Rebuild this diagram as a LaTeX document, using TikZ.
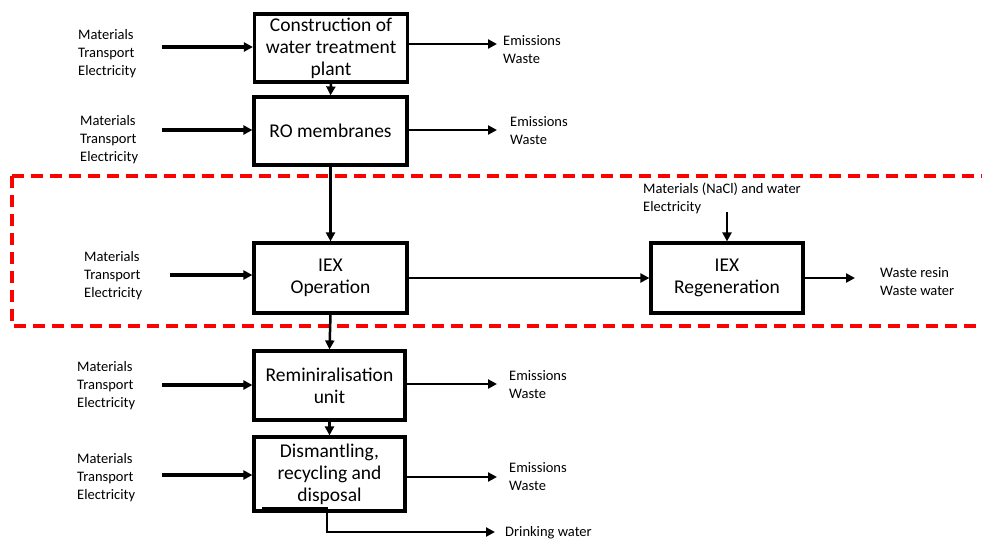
\documentclass[tikz,border=0pt]{standalone}
\usepackage{fontspec}
\setmainfont{Carlito}
\usetikzlibrary{arrows.meta}
\begin{document}
\begin{tikzpicture}[x=1pt,y=-1pt,
  box/.style={draw,line width=3.2pt,minimum width=153pt,minimum height=68pt,inner sep=0pt,align=center,font=\fontsize{19.5}{22}\selectfont},
  lbl/.style={anchor=west,align=left,inner sep=0pt,font=\fontsize{14.5}{18}\selectfont},
  arr/.style={line width=2.5pt,-{Triangle[length=9pt,width=9pt]}},
  inarr/.style={line width=3.4pt,-{Triangle[length=9pt,width=9pt]}},
  region/.style={draw=red,line width=3.4pt,dash pattern=on 12pt off 7pt}]
\useasboundingbox (0,0) rectangle (982,542);
\begin{scope}
\clip (0,0) rectangle (982,542);
\draw[region] (12,176) -- (1010,176) (12,176) -- (12,326) -- (1010,326);
\end{scope}
% boxes
\node[box] (con) at (331,48) {Construction of\\water treatment\\plant};
\node[box] (ro) at (330.5,131) {RO membranes};
\node[box,minimum height=70pt] (iex) at (330.5,278) {IEX\\Operation};
\node[box,minimum width=152pt,minimum height=70pt] (reg) at (727,278) {IEX\\Regeneration};
\node[box,minimum width=151pt,minimum height=69pt] (rem) at (329.5,385.5) {Reminiralisation\\unit};
\node[box,minimum width=151pt,minimum height=74pt] (dis) at (329.5,474) {Dismantling,\\recycling and\\disposal};
% input labels
\node[lbl] (in1) at (78,54) {Materials\\Transport\\Electricity};
\node[lbl] (in2) at (80,140) {Materials\\Transport\\Electricity};
\node[lbl] (in3) at (84,275.5) {Materials\\Transport\\Electricity};
\node[lbl] (in4) at (77,385.5) {Materials\\Transport\\Electricity};
\node[lbl] (in5) at (77,477.5) {Materials\\Transport\\Electricity};
\coordinate (s1) at (162,47);
\coordinate (s2) at (162,130);
\coordinate (s3) at (170,275);
\coordinate (s4) at (162,385);
\coordinate (s5) at (162,475);
\draw[inarr] (s1) -- (con.west |- s1);
\draw[inarr] (s2) -- (ro.west |- s2);
\draw[inarr] (s3) -- (iex.west |- s3);
\draw[inarr] (s4) -- (rem.west |- s4);
\draw[inarr] (s5) -- (dis.west |- s5);
% output labels
\node[lbl] (out1) at (503,50) {Emissions\\Waste};
\node[lbl] (out2) at (510,130.5) {Emissions\\Waste};
\node[lbl] (out4) at (509,384.5) {Emissions\\Waste};
\node[lbl] (out5) at (509,477) {Emissions\\Waste};
\node[lbl] (wout) at (880,281.5) {Waste resin\\Waste water};
\node[lbl] (nacl) at (643,198) {Materials (NaCl) and water\\Electricity};
\node[lbl] (dw) at (505,533) {Drinking water};
\coordinate (e1) at (497,44);
\coordinate (e2) at (497,130);
\coordinate (e4) at (497,384);
\coordinate (e5) at (497,477);
\coordinate (ew) at (855,278);
\draw[arr] (con.east |- e1) -- (e1);
\draw[arr] (ro.east |- e2) -- (e2);
\draw[arr] (rem.east |- e4) -- (e4);
\draw[arr] (dis.east |- e5) -- (e5);
\draw[arr] (reg.east |- ew) -- (ew);
\draw[arr] (iex.east) -- (reg.west);
\coordinate (nt) at (727,212);
\draw[arr] (nt) -- (reg.north);
% vertical flow
\draw[arr] (con.south) -- (ro.north);
\draw[arr] (ro.south) -- (iex.north);
\draw[arr] (iex.south) -- (rem.north);
\draw[arr] (rem.south) -- (dis.north);
% drinking water
\coordinate (d0) at (262,508);
\coordinate (d1) at (327,508);
\coordinate (d2) at (327,532);
\coordinate (d3) at (495,532);
\draw[arr] (d0) -- (d1) -- (d2) -- (d3);
\end{tikzpicture}
\end{document}
